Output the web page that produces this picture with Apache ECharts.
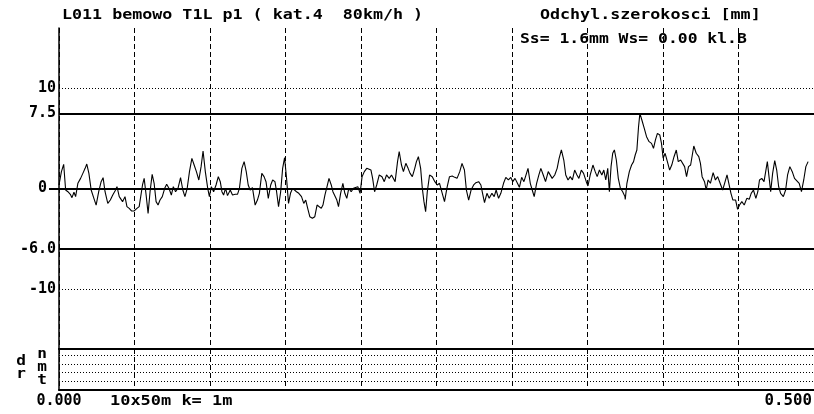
<!DOCTYPE html>
<html>
<head>
<meta charset="utf-8">
<script src="https://cdn.jsdelivr.net/npm/echarts@6/dist/echarts.min.js"></script>
<style>html,body{margin:0;padding:0;background:#fff}#c{width:814px;height:414px}</style>
</head>
<body>
<div id="c"></div>
<script>
// distance along track [m]
const xs = [0,1.6,3.1,4.4,5.9,7.5,8.6,9.9,11.0,12.5,14.3,15.8,17.3,18.4,19.8,21.3,23.1,24.6,26.3,27.9,29.2,30.5,32.3,34.0,35.6,37.1,38.4,39.9,41.0,42.1,43.7,45.0,46.5,48.0,49.8,51.6,53.1,54.2,55.3,56.4,57.7,59.0,60.3,61.7,63.0,64.3,65.6,66.9,68.4,70.0,71.3,72.8,74.4,75.7,77.2,78.8,80.5,82.0,83.4,84.9,86.4,88.0,89.5,91.0,92.6,94.1,95.4,96.9,98.5,99.6,100.9,102.4,104.0,105.5,106.8,107.9,109.0,110.3,111.6,113.4,114.9,116.7,118.2,119.5,121.1,122.6,124.0,
125.3,126.6,128.1,129.9,131.4,132.7,134.3,135.8,137.1,138.6,140.2,141.5,143.0,144.1,145.4,146.8,148.1,149.4,150.7,152.0,153.3,154.7,156.0,157.3,158.8,160.6,162.1,163.4,164.7,166.1,167.8,169.4,170.9,172.2,173.7,174.8,176.1,177.5,178.8,180.3,181.4,182.7,184.0,185.1,186.5,188.0,189.3,190.6,191.9,193.5,195.0,196.3,197.9,199.4,200.7,202.2,203.8,205.1,206.6,207.7,209.0,210.4,212.1,213.9,215.4,216.9,218.7,220.2,221.5,222.6,224.2,225.3,226.8,228.1,229.7,231.2,232.5,234.0,235.6,236.7,238.0,239.5,240.6,241.7,242.8,243.9,245.4,247.2,248.9,250.5,
252.0,253.8,255.3,257.1,258.6,260.4,262.1,263.6,265.4,266.9,268.5,269.8,271.3,272.9,274.6,276.1,277.9,279.4,280.5,281.8,283.4,284.9,286.7,288.2,289.5,291.1,292.6,294.4,295.9,297.6,299.2,300.5,302.0,303.6,304.9,306.4,307.9,309.3,310.6,312.1,313.4,314.7,316.3,317.8,319.1,320.7,322.2,324.0,325.3,326.6,328.3,329.9,331.2,332.7,334.3,335.6,337.1,338.6,340.0,341.5,343.0,344.3,345.9,347.4,349.2,350.3,351.8,353.6,355.1,356.4,357.9,359.5,360.8,362.1,363.4,364.5,365.6,366.7,367.8,369.1,370.4,371.8,373.3,374.8,
375.0,376.1,377.7,379.2,380.5,381.6,382.7,383.8,384.7,386.0,387.6,389.1,390.8,392.4,393.7,395.0,396.3,397.9,399.0,400.1,401.4,402.9,404.4,405.8,407.3,408.8,410.1,411.7,413.0,414.3,415.6,416.9,418.3,419.4,420.4,422.0,423.7,424.8,425.9,427.5,428.6,429.9,431.4,433.2,434.7,436.2,438.0,439.5,440.8,442.4,443.7,445.0,446.3,448.1,449.4,450.7,452.2,453.8,455.5,457.1,458.4,459.9,461.5,462.8,463.9,465.4,466.9,468.0,469.1,470.2,471.3,472.6,474.0,475.3,476.6,477.9,479.7,481.2,482.5,484.0,485.6,487.1,488.4,490.2,491.7,493.2,494.6,496.1];
// gauge deviation [mm]
const vals = [0.35,1.68,2.41,-0.15,-0.32,-0.58,-0.91,-0.38,-0.81,0.52,1.01,1.51,2.01,2.44,1.51,-0.15,-0.98,-1.65,-0.32,0.68,1.08,-0.32,-1.48,-1.15,-0.65,-0.25,0.18,-0.81,-0.91,-1.31,-0.81,-1.81,-1.98,-2.24,-2.24,-1.98,-1.81,-1.98,0.35,1.01,-0.65,-2.48,-0.32,1.41,0.52,-1.31,-1.65,-1.15,-0.81,0.02,0.42,0.02,-0.65,0.18,-0.32,0.02,1.08,-0.15,-0.81,0.02,1.68,3.01,2.34,1.68,0.85,2.18,3.74,1.68,0.02,-0.81,0.18,-0.32,0.35,1.18,0.68,-0.32,-0.65,0.02,-0.71,-0.15,-0.65,-0.58,-0.58,0.02,2.01,2.68,1.68,
0.35,-0.15,0.08,-1.65,-1.15,-0.48,1.51,1.18,0.68,-0.98,0.35,0.85,0.68,-0.32,-1.81,-0.32,2.01,3.07,1.01,-1.48,-0.48,0.02,0.18,-0.32,-0.48,-0.81,-1.48,-1.15,-1.98,-2.81,-2.97,-2.81,-1.65,-1.48,-1.98,-1.65,-0.65,0.18,1.01,0.35,-0.32,-0.48,-1.15,-1.81,-0.48,0.52,-0.48,-0.98,0.02,-0.32,0.02,-0.15,0.18,-0.48,1.18,1.68,2.01,2.18,1.84,1.01,-0.32,0.35,1.35,1.18,0.68,1.35,1.01,1.35,1.18,0.68,2.68,3.67,2.34,1.68,2.51,2.01,1.51,1.18,2.01,2.68,3.17,2.01,0.02,-1.31,-2.31,-0.32,1.35,1.18,0.68,0.35,
0.52,-0.48,-1.31,0.18,1.18,1.25,1.11,1.01,1.68,2.51,1.84,-0.15,-1.15,-0.15,0.35,0.58,0.68,0.35,-0.48,-1.41,-0.48,-0.98,-0.48,-0.81,-0.15,-0.98,-0.48,0.52,1.11,0.85,1.11,0.68,1.01,0.52,0.12,1.11,0.68,1.35,2.01,0.52,-0.15,-0.81,0.52,1.35,2.01,1.35,0.68,1.68,1.84,1.01,1.35,2.01,3.01,3.84,2.84,1.35,0.85,1.18,0.85,1.84,1.35,1.01,1.84,1.51,0.68,0.25,1.35,2.34,1.68,1.18,1.84,1.35,1.84,0.85,2.01,-0.32,2.18,3.51,3.84,2.84,1.01,0.02,-0.32,-0.81,
-1.08,0.52,1.68,2.34,2.68,3.34,3.84,6.16,7.49,6.83,6.0,5.17,4.67,4.50,4.0,4.84,5.50,5.33,4.50,3.01,3.51,2.68,1.84,2.34,3.17,3.84,2.68,2.84,2.68,2.18,1.18,2.18,2.34,3.34,4.24,3.51,3.17,2.51,1.18,0.68,-0.15,0.85,0.52,1.58,0.85,1.18,0.45,-0.15,0.52,1.35,1.18,-0.48,-1.15,-1.15,-2.08,-1.65,-1.31,-1.65,-0.98,-1.08,-0.48,-0.15,-0.98,-0.32,0.85,1.01,0.68,1.68,2.68,1.18,-0.32,1.51,2.78,1.84,0.18,-0.48,-0.81,-0.15,1.35,2.18,1.68,1.01,0.85,0.52,-0.32,0.85,2.18,2.68];

const yTickValues = [-10, -6, 0, 7.5, 10];
const yTickLabels = ['-10', '-6.0', '0', '7.5', '10'];
const solidLevels = [7.5, 0, -6];
const dottedLevels = [10, -10];
const xStartLabel = '0.000';
const xEndLabel = '0.500';
const titleLeft = 'L011 bemowo T1L p1 ( kat.4  80km/h )';
const titleRight = 'Odchyl.szerokosci [mm]';
const statsText = 'Ss= 1.6mm Ws= 0.00 kl.B';
const scaleText = '10x50m k= 1m';

const FONT = '"DejaVu Sans Mono", "Liberation Mono", monospace';
const chart = echarts.init(document.getElementById('c'), null, {renderer: 'canvas'});

const dash = {color: '#000', width: 1, type: [5, 3]};
const markData = solidLevels.map(v => ({yAxis: v, lineStyle: {type: 'solid', width: 2, color: '#000'}}))
  .concat(dottedLevels.map(v => ({yAxis: v, lineStyle: {type: [1, 2], width: 1, color: '#000'}})));

function txt(x, y, s, align, size, sx) {
  return {type: 'text', x: x, y: y, scaleX: sx, silent: true,
    style: {text: s, font: 'bold ' + size + 'px ' + FONT, fill: '#000',
      align: align, verticalAlign: 'middle', textAlign: align, textVerticalAlign: 'middle'}};
}

chart.setOption({
  animation: false,
  backgroundColor: '#fff',
  grid: [
    {left: 59, top: 28, width: 760, height: 321},
    {left: 59, top: 349, width: 760, height: 41}
  ],
  xAxis: [
    {gridIndex: 0, type: 'value', min: 0, max: 500, interval: 50, position: 'top',
      axisLine: {show: true, lineStyle: {color: '#000', width: 2}},
      axisTick: {show: false}, axisLabel: {show: false},
      splitLine: {show: true, lineStyle: dash}},
    {gridIndex: 1, type: 'value', min: 0, max: 500, interval: 50, position: 'bottom',
      axisLine: {show: true, lineStyle: {color: '#000', width: 2}},
      axisTick: {show: false},
      axisLabel: {show: true, customValues: [0], formatter: () => xStartLabel, margin: 4,
        color: '#000', fontFamily: FONT, fontWeight: 'bold', fontSize: 15},
      splitLine: {show: true, lineStyle: dash}},
    {gridIndex: 1, type: 'value', min: 0, max: 500, position: 'top',
      axisLine: {show: true, lineStyle: {color: '#000', width: 2}},
      axisTick: {show: false}, axisLabel: {show: false}, splitLine: {show: false}}
  ],
  yAxis: [
    {gridIndex: 0, type: 'value', min: -16, max: 16,
      axisLine: {show: true, lineStyle: {color: '#000', width: 1.5}},
      axisTick: {show: true, customValues: [0], length: 10, lineStyle: {color: '#000', width: 2}},
      splitLine: {show: false},
      axisLabel: {show: true, customValues: yTickValues, margin: 3,
        color: '#000', fontFamily: FONT, fontWeight: 'bold', fontSize: 15,
        formatter: v => {
          const i = yTickValues.indexOf(v);
          const s = i >= 0 ? yTickLabels[i] : '';
          return v === 0 ? '{z|' + s + '}' : s;
        },
        rich: {z: {padding: [0, 9, 0, 0], color: '#000', fontFamily: FONT, fontWeight: 'bold', fontSize: 15}}}},
    {gridIndex: 1, type: 'value', min: 0, max: 4.7, interval: 1,
      axisLine: {show: true, lineStyle: {color: '#000', width: 1.5}},
      axisTick: {show: false}, axisLabel: {show: false},
      splitLine: {show: true, lineStyle: {color: '#000', width: 1, type: [1, 2]}}}
  ],
  series: [
    {type: 'line', xAxisIndex: 0, yAxisIndex: 0, showSymbol: false, symbol: 'none',
      data: xs.map((x, i) => [x, vals[i]]),
      lineStyle: {color: '#000', width: 1.1}, silent: true,
      markLine: {silent: true, symbol: ['none', 'none'], label: {show: false}, animation: false,
        data: markData}},
    {type: 'line', xAxisIndex: 1, yAxisIndex: 1, data: []}
  ],
  graphic: [
    txt(62, 15, titleLeft, 'left', 14, 1.19),
    txt(540, 15, titleRight, 'left', 14, 1.19),
    txt(520, 39, statsText, 'left', 14, 1.17),
    txt(110, 401, scaleText, 'left', 14, 1.21),
    txt(812, 401, xEndLabel, 'right', 15, 1.05),
    txt(21, 361, 'd', 'center', 14, 1.15),
    txt(21, 374, 'r', 'center', 14, 1.15),
    txt(42, 354, 'n', 'center', 14, 1.15),
    txt(42, 367, 'm', 'center', 14, 1.15),
    txt(42, 380, 't', 'center', 14, 1.15)
  ]
});
</script>
</body>
</html>
